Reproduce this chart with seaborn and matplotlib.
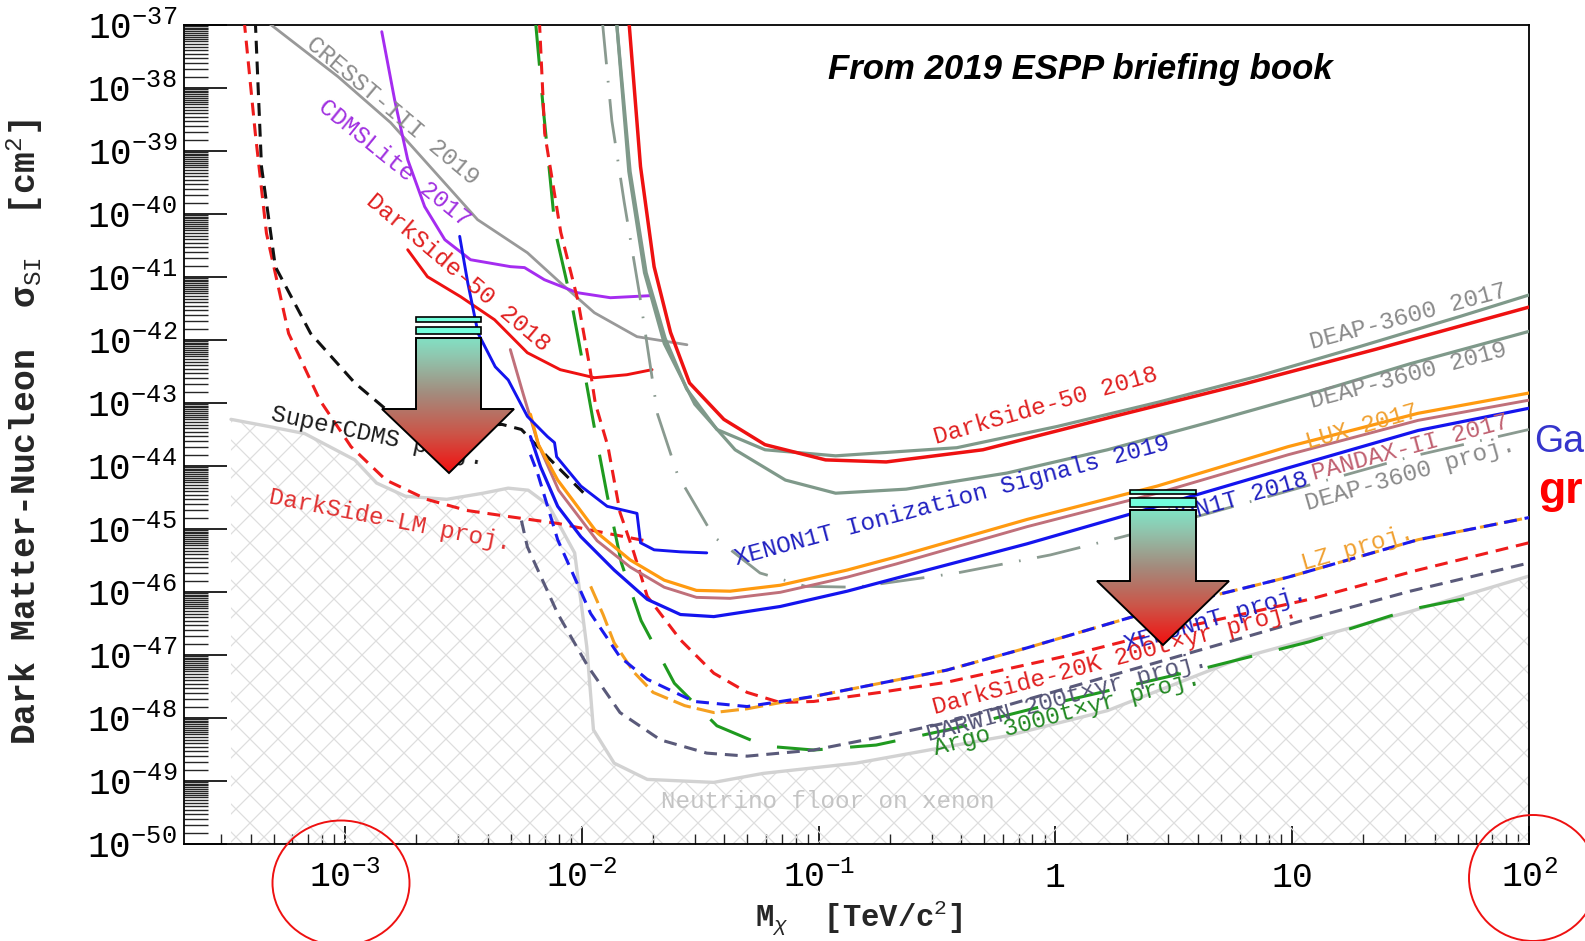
import numpy as np
import pandas as pd
import matplotlib
matplotlib.use("Agg")
import matplotlib.pyplot as plt
import seaborn as sns
from matplotlib.patches import Polygon, Ellipse, Rectangle
from matplotlib.collections import LineCollection
from matplotlib.colors import LinearSegmentedColormap
from matplotlib.ticker import FixedLocator, FixedFormatter, LogLocator, NullFormatter
from matplotlib.transforms import IdentityTransform

# ---------------- data (mass in TeV/c^2, cross section in cm^2) ----------------
cresst_m = [4.8e-4, 9.35e-4, 1.56e-3, 3.63e-3, 5.89e-3, 8.11e-3, 1.13e-2, 1.71e-2, 2.78e-2]
cresst_s = [1.05e-37, 1.51e-38, 2.81e-39, 8.13e-41, 2.43e-41, 8.13e-42, 2.71e-42, 1.13e-42, 8.41e-43]

cdms_m = [1.43e-3, 1.62e-3, 1.84e-3, 2.17e-3, 2.64e-3, 3.39e-3, 5.0e-3, 5.73e-3, 6.95e-3, 9.57e-3, 1.32e-2, 1.94e-2]
cdms_s = [7.83e-38, 6.52e-39, 7.28e-40, 1.31e-40, 3.91e-41, 1.88e-41, 1.46e-41, 1.41e-41, 9.06e-42, 5.64e-42, 4.69e-42, 5.05e-42]

ds50lo_m = [1.84e-3, 2.23e-3, 3.08e-3, 4.28e-3, 5.89e-3, 8.11e-3, 1.13e-2, 1.55e-2, 1.98e-2]
ds50lo_s = [2.71e-41, 1.01e-41, 4.86e-42, 2.10e-42, 6.28e-43, 3.38e-43, 2.52e-43, 2.81e-43, 3.38e-43]

ion_m = [3.05e-3, 3.30e-3, 3.65e-3, 4.31e-3, 4.89e-3, 5.89e-3, 7.16e-3, 7.67e-3, 7.83e-3, 9.91e-3,
         1.28e-2, 1.71e-2, 1.75e-2, 1.77e-2, 2.02e-2, 2.61e-2, 3.37e-2]
ion_s = [4.42e-41, 8.07e-42, 1.27e-42, 3.76e-43, 2.32e-43, 6.14e-44, 2.93e-44, 2.35e-44, 1.40e-44, 4.80e-45,
         2.29e-45, 1.77e-45, 8.75e-46, 6.05e-46, 4.67e-46, 4.34e-46, 4.18e-46]

xe18_m = [6.07e-3, 6.70e-3, 7.91e-3, 9.91e-3, 1.37e-2, 1.89e-2, 2.61e-2, 3.61e-2, 6.89e-2, 0.132, 0.213,
          0.760, 2.69, 9.62, 34.0, 100]
xe18_s = [2.93e-44, 9.68e-45, 2.29e-45, 7.55e-46, 2.23e-46, 7.64e-47, 4.39e-47, 4.07e-47, 5.89e-47, 1.03e-46,
          1.66e-46, 5.83e-46, 2.29e-45, 9.33e-45, 3.66e-44, 8.26e-44]

lux_m = [6.07e-3, 6.56e-3, 7.91e-3, 1.16e-2, 1.60e-2, 2.23e-2, 3.05e-2, 4.23e-2, 6.89e-2, 0.132, 0.213,
         0.760, 2.69, 9.62, 34.0, 100]
lux_s = [6.61e-44, 2.18e-44, 5.98e-45, 8.75e-46, 3.23e-46, 1.54e-46, 1.06e-46, 1.03e-46, 1.28e-46, 2.23e-46,
         3.61e-46, 1.42e-45, 4.80e-45, 2.03e-44, 6.86e-44, 1.44e-43]

pandax_m = [4.99e-3, 5.66e-3, 6.56e-3, 7.98e-3, 1.16e-2, 1.60e-2, 2.23e-2, 3.05e-2, 4.23e-2, 6.89e-2, 0.132,
            0.213, 0.760, 2.69, 9.62, 34.0, 100]
pandax_s = [7.05e-43, 1.38e-43, 2.18e-44, 4.13e-45, 6.52e-46, 2.49e-46, 1.19e-46, 8.22e-47, 7.93e-47, 9.89e-47,
            1.72e-46, 2.79e-46, 1.09e-45, 3.70e-45, 1.51e-44, 5.30e-44, 1.11e-43]

ds50hi_m = [1.58e-2, 1.77e-2, 2.02e-2, 2.37e-2, 2.85e-2, 3.98e-2, 5.94e-2, 0.107, 0.193, 0.494, 1.77, 6.25, 22.3, 100]
ds50hi_s = [1.2e-37, 5.66e-40, 1.46e-41, 1.32e-42, 2.08e-43, 5.50e-44, 2.18e-44, 1.25e-44, 1.16e-44, 1.81e-44,
            6.14e-44, 2.00e-43, 7.05e-43, 3.33e-42]

deap17_m = [1.40e-2, 1.60e-2, 1.87e-2, 2.25e-2, 2.77e-2, 3.72e-2, 5.94e-2, 0.118, 0.383, 1.02, 2.72, 7.24, 19.3, 51.4, 100]
deap17_s = [1.2e-37, 4.71e-40, 1.17e-41, 1.06e-42, 1.67e-43, 3.80e-44, 1.81e-44, 1.45e-44, 1.95e-44, 4.25e-44,
            1.03e-43, 2.69e-43, 7.87e-43, 2.38e-42, 5.18e-42]

deap19_m = [1.40e-2, 1.58e-2, 1.84e-2, 2.23e-2, 3.00e-2, 4.44e-2, 7.24e-2, 0.118, 0.234, 0.625, 1.66, 4.44, 11.8, 31.5, 100]
deap19_s = [1.2e-37, 4.71e-40, 1.17e-41, 8.79e-43, 9.57e-44, 1.81e-44, 5.98e-45, 3.70e-45, 4.29e-45, 7.74e-45,
            1.81e-44, 4.92e-44, 1.38e-43, 4.20e-43, 1.37e-42]

deapp_m = [1.22e-2, 1.34e-2, 1.51e-2, 1.75e-2, 2.09e-2, 2.54e-2, 3.61e-2, 5.66e-2, 8.81e-2, 0.144, 0.383, 0.953,
           1.93, 4.44, 11.8, 31.5, 100]
deapp_s = [1.2e-37, 2.99e-39, 1.55e-40, 5.57e-42, 6.61e-44, 7.20e-45, 7.55e-46, 2.00e-46, 1.23e-46, 1.19e-46,
           2.00e-46, 3.88e-46, 7.55e-46, 1.77e-45, 4.98e-45, 1.40e-44, 3.80e-44]

xnt_m = [6.07e-3, 6.50e-3, 7.91e-3, 1.09e-2, 1.45e-2, 1.89e-2, 2.98e-2, 4.99e-2, 9.53e-2, 0.182, 0.347, 0.760,
         2.69, 9.62, 34.0, 100]
xnt_s = [1.51e-44, 7.74e-45, 6.76e-46, 4.55e-47, 9.29e-48, 4.12e-48, 1.83e-48, 1.52e-48, 2.20e-48, 3.56e-48,
         5.74e-48, 1.30e-47, 5.27e-47, 1.72e-46, 6.76e-46, 1.52e-45]

lz_m = [1.09e-2, 1.23e-2, 1.37e-2, 1.66e-2, 2.00e-2, 2.72e-2, 3.61e-2, 4.99e-2, 9.53e-2, 0.182, 0.347, 0.760,
        2.69, 9.62, 34.0, 100]
lz_s = [1.23e-46, 4.39e-47, 1.56e-47, 5.33e-48, 2.55e-48, 1.57e-48, 1.22e-48, 1.40e-48, 2.20e-48, 3.56e-48,
        5.74e-48, 1.30e-47, 5.27e-47, 1.72e-46, 6.76e-46, 1.52e-45]

ds20k_m = [6.62e-3, 6.97e-3, 8.15e-3, 9.62e-3, 1.08e-2, 1.14e-2, 1.29e-2, 1.45e-2, 1.66e-2, 1.89e-2, 2.61e-2,
           3.61e-2, 4.99e-2, 6.89e-2, 9.53e-2, 0.182, 0.347, 1.16, 2.72, 11.8, 34.0, 100]
ds20k_s = [1.2e-37, 1.92e-39, 5.13e-41, 4.31e-42, 3.76e-43, 9.93e-44, 2.03e-44, 1.83e-45, 4.18e-46, 8.53e-47,
           1.74e-47, 5.14e-48, 2.55e-48, 1.76e-48, 1.83e-48, 2.55e-48, 3.69e-48, 1.00e-47, 2.25e-47, 7.64e-47,
           2.23e-46, 6.05e-46]

darwin_m = [5.56e-3, 5.89e-3, 7.91e-3, 1.06e-2, 1.45e-2, 2.15e-2, 3.37e-2, 4.99e-2, 9.53e-2, 0.182, 0.347,
            0.760, 2.72, 11.8, 31.5, 100]
darwin_s = [1.36e-45, 5.21e-46, 4.55e-47, 6.65e-48, 1.22e-48, 4.49e-49, 2.77e-49, 2.48e-49, 3.10e-49, 5.01e-49,
            8.41e-49, 1.97e-48, 7.73e-48, 3.78e-47, 1.03e-46, 2.89e-46]

argo_m = [6.37e-3, 6.89e-3, 7.74e-3, 9.06e-3, 1.02e-2, 1.14e-2, 1.28e-2, 1.47e-2, 1.78e-2, 2.46e-2, 3.72e-2,
          5.94e-2, 9.53e-2, 0.175, 0.383, 1.02, 4.44, 11.8, 31.5, 65.6]
argo_s = [1.2e-37, 4.33e-39, 5.13e-41, 3.85e-42, 3.49e-43, 3.40e-44, 3.44e-45, 2.89e-46, 3.51e-47, 3.56e-48,
          7.52e-49, 3.59e-49, 3.10e-49, 3.72e-49, 6.98e-49, 1.76e-48, 6.41e-48, 1.62e-47, 5.27e-47, 9.18e-47]

scdms_m = [4.18e-4, 4.44e-4, 5.08e-4, 7.16e-4, 1.10e-3, 1.49e-3, 2.34e-3, 3.47e-3, 4.61e-3, 5.56e-3, 7.16e-3, 1.02e-2]
scdms_s = [1.2e-37, 5.66e-40, 1.46e-41, 1.27e-42, 2.08e-43, 7.94e-44, 4.92e-44, 4.41e-44, 4.57e-44, 3.80e-44,
           1.40e-44, 3.70e-45]

dslm_m = [3.75e-4, 4.18e-4, 4.66e-4, 5.78e-4, 7.83e-4, 1.06e-3, 1.49e-3, 2.21e-3, 3.27e-3, 4.89e-3, 7.98e-3, 1.30e-2, 1.85e-2]
dslm_s = [1.2e-37, 1.92e-39, 4.93e-41, 1.27e-42, 1.11e-43, 2.03e-44, 5.98e-45, 2.96e-45, 1.97e-45, 1.58e-45,
          1.22e-45, 8.43e-46, 6.52e-46]

nu_m = [3.30e-4, 4.75e-4, 6.76e-4, 1.10e-3, 1.36e-3, 1.80e-3, 2.69e-3, 3.83e-3, 4.89e-3, 5.94e-3, 7.24e-3,
        9.33e-3, 1.05e-2, 1.12e-2, 1.37e-2, 1.89e-2, 3.61e-2, 5.83e-2, 0.144, 0.625, 1.66, 6.25, 31.5, 100]
nu_s = [5.50e-44, 4.25e-44, 3.27e-44, 1.25e-44, 5.36e-45, 3.31e-45, 2.96e-45, 3.70e-45, 4.45e-45, 4.13e-45,
        2.38e-45, 4.18e-46, 1.34e-47, 6.49e-49, 1.92e-49, 1.06e-49, 9.51e-50, 1.32e-49, 1.92e-49, 5.20e-49,
        1.31e-48, 9.29e-48, 4.90e-47, 1.79e-46]

# curve labels (text) and their anchor values
label_texts = ["CRESST-III 2019", "CDMSLite 2017", "DarkSide-50 2018", "SuperCDMS proj.", "DarkSide-LM proj.",
               "XENON1T Ionization Signals 2019", "DarkSide-50 2018", "DEAP-3600 2017", "DEAP-3600 2019",
               "LUX 2017", "PANDAX-II 2017", "DEAP-3600 proj.", "XENON1T 2018", "LZ proj.", "XENONnT proj.",
               "DarkSide-20K 200t×yr proj.", "DARWIN 200t×yr proj.", "Argo 3000t×yr proj.",
               "Neutrino floor on xenon"]
label_m = [1.58e-3, 1.62e-3, 3.00e-3, 1.37e-3, 1.55e-3, 0.365, 0.906, 30.8, 30.8, 19.7, 31.5, 31.5, 5.14, 18.9,
           4.75, 1.78, 1.12, 1.12, 0.109]
label_s = [4.33e-39, 6.32e-40, 1.17e-41, 2.93e-44, 1.36e-45, 2.86e-45, 8.89e-44, 2.38e-42, 2.69e-43, 4.25e-44,
           1.95e-44, 7.46e-45, 2.6e-45, 5.04e-46, 3.78e-47, 8.63e-48, 2.12e-48, 1.17e-48, 4.71e-50]

xtick_vals = [1e-3, 1e-2, 1e-1, 1, 10, 100]
xtick_labels = [r"$10^{-3}$", r"$10^{-2}$", r"$10^{-1}$", "1", "10", r"$10^{2}$"]
ytick_exps = list(range(-37, -51, -1))

# ---------------- styling ----------------
sns.set_theme(style="white")
plt.rcParams['font.family'] = ['Liberation Mono', 'DejaVu Sans Mono']
plt.rcParams['mathtext.fontset'] = 'custom'
plt.rcParams['mathtext.rm'] = 'Liberation Mono'
plt.rcParams['mathtext.it'] = 'Liberation Mono:italic'
plt.rcParams['mathtext.bf'] = 'Liberation Mono:bold'
plt.rcParams['axes.unicode_minus'] = False

W, H = 1585, 941
fig = plt.figure(figsize=(W / 100, H / 100), dpi=100)
fig.patch.set_facecolor('white')
ax = fig.add_axes([184 / W, 1 - 844 / H, (1529 - 184) / W, (844 - 25) / H])
ax.set_facecolor('white')
ax.set_xscale('log')
ax.set_yscale('log')
XLIM = (2.09e-4, 100)
YLIM = (1e-50, 1e-37)
ax.set_xlim(*XLIM)
ax.set_ylim(*YLIM)


def curve(m, s, color, lw, dashes=None, z=3):
    sns.lineplot(x=m, y=s, ax=ax, color=color, linewidth=lw, sort=False, estimator=None, zorder=z)
    ln = ax.lines[-1]
    if dashes is not None:
        ln.set_dashes(dashes)
    ln.set_dash_capstyle('butt')
    ln.set_solid_joinstyle('round')
    return ln


# neutrino floor region (hatched) -----------------------------------------
fillpoly = ax.fill_between(nu_m, nu_s, YLIM[0], facecolor='none', edgecolor='none', zorder=0)
segs = []
for c in range(-2400, 2400, 28):
    segs.append([(-200, -200 + c), (2200, 2200 + c)])
    segs.append([(-200, 2200 - c), (2200, -200 - c)])
hatch = LineCollection(segs, transform=IdentityTransform(), colors='#dedede', linewidths=0.9, zorder=1)
ax.add_collection(hatch, autolim=False)
hatch.set_clip_path(fillpoly.get_paths()[0], fillpoly.get_transform())

curve(nu_m, nu_s, '#d2d2d2', 2.4, z=2)

# limits and projections ------------------------------------------------------
curve(cresst_m, cresst_s, '#999999', 2.0)
curve(cdms_m, cdms_s, '#a52cf0', 2.1)
curve(ds50lo_m, ds50lo_s, '#ee1111', 2.1)
curve(dslm_m, dslm_s, '#ee1c1c', 2.2, dashes=(4.2, 2.6))
curve(scdms_m, scdms_s, '#111111', 2.2, dashes=(4.2, 2.6))
curve(deapp_m, deapp_s, '#8a9a90', 2.0, dashes=(16, 6, 0.6, 6))
curve(argo_m, argo_s, '#1f9a1f', 2.2, dashes=(15, 9))
curve(ds20k_m, ds20k_s, '#ee1c1c', 2.2, dashes=(4.2, 2.6))
curve(darwin_m, darwin_s, '#5a5a7a', 2.2, dashes=(4.2, 2.6))
curve(lz_m, lz_s, '#f5a020', 2.2, dashes=(6, 2))
curve(xnt_m, xnt_s, '#1a1aee', 2.2, dashes=(4.2, 2.6))
curve(deap19_m, deap19_s, '#7f998a', 2.3)
curve(deap17_m, deap17_s, '#7f998a', 2.3)
curve(ds50hi_m, ds50hi_s, '#ee1111', 2.5)
curve(pandax_m, pandax_s, '#c0707a', 2.1)
curve(lux_m, lux_s, '#ff9a10', 2.3)
curve(xe18_m, xe18_s, '#1414ee', 2.3)
curve(ion_m, ion_s, '#1414ee', 2.1)

ax.set_xlim(*XLIM)
ax.set_ylim(*YLIM)

# curve labels
label_rot = [-40, -39, -40, -12, -11, 15, 16, 15, 15, 16, 15, 16, 16, 16, 16, 15, 15, 15, 0]
label_col = ['#8c8c8c', '#a030e0', '#e02020', '#1a1a1a', '#e03030', '#2020c0', '#e02020', '#8a8a8a',
             '#8a8a8a', '#f0a030', '#c06070', '#8a8a8a', '#2020c0', '#f0a030', '#2020c0', '#e02020',
             '#555577', '#228822', '#c4c4c4']
for t, xm, ys, r, c in zip(label_texts, label_m, label_s, label_rot, label_col):
    ax.text(xm, ys, t, rotation=r, rotation_mode='anchor', ha='center', va='center',
            fontsize=17.5, color=c, zorder=6)

# axes decoration
for sp in ax.spines.values():
    sp.set_color('black')
    sp.set_linewidth(1.3)
    sp.set_visible(True)

ax.yaxis.set_major_locator(FixedLocator([10.0 ** e for e in ytick_exps]))
ax.yaxis.set_major_formatter(FixedFormatter([r"$10^{%d}$" % e for e in ytick_exps]))
ax.yaxis.set_minor_locator(LogLocator(base=10, subs=np.arange(1.5, 10, 0.5), numticks=60))
ax.yaxis.set_minor_formatter(NullFormatter())
ax.xaxis.set_major_locator(FixedLocator(xtick_vals))
ax.xaxis.set_major_formatter(FixedFormatter(xtick_labels))
ax.xaxis.set_minor_locator(LogLocator(base=10, subs=np.arange(2, 10), numticks=60))
ax.xaxis.set_minor_formatter(NullFormatter())

ax.tick_params(axis='y', which='major', direction='in', length=31, width=1.2, left=True, right=False,
               labelsize=26, pad=5, colors='black')
ax.tick_params(axis='y', which='minor', direction='in', length=17, width=1.0, left=True, right=False)
ax.tick_params(axis='x', which='major', direction='in', length=13, width=1.2, bottom=True, top=False,
               labelsize=25, pad=12, colors='black')
ax.tick_params(axis='x', which='minor', direction='in', length=7, width=1.0, bottom=True, top=False)

ax.set_ylabel("Dark Matter-Nucleon  σ$_{\\rm SI}$  [cm$^{2}$]", fontsize=25, fontweight='bold')
ax.yaxis.set_label_coords(-0.103, 0.503)
ax.set_xlabel(r"M$_{\chi}$  [TeV/c$^{2}$]", fontsize=22, fontweight='bold')
ax.xaxis.set_label_coords(0.502, -0.066)

# ---------------- overlay (annotations in pixel space) ----------------
ov = fig.add_axes([0, 0, 1, 1], zorder=10)
ov.set_xlim(0, W)
ov.set_ylim(H, 0)
ov.axis('off')
ov.patch.set_alpha(0)

cmap = LinearSegmentedColormap.from_list('arrowgrad', ['#72ffdc', '#8fc8b0', '#a48a7c', '#cc5548', '#f21010'])


def grad_arrow(bx0, bx1, hx0, hx1, ytop, stripes, ybody, yhead, tip):
    pts = [(bx0, ybody), (bx1, ybody), (bx1, yhead), (hx1, yhead), tip, (hx0, yhead), (bx0, yhead)]
    outline = Polygon(pts, closed=True, fc='none', ec='black', lw=1.4, zorder=12)
    ov.add_patch(outline)
    grad = np.linspace(0, 1, 256).reshape(-1, 1)
    im = ov.imshow(grad, cmap=cmap, extent=(hx0, hx1, tip[1], ytop), aspect='auto', zorder=11,
                   interpolation='bilinear')
    im.set_clip_path(outline)
    for (y0, y1) in stripes:
        ov.add_patch(Rectangle((bx0, y0), bx1 - bx0, y1 - y0, fc='#72ffdc', ec='black', lw=1.2, zorder=12))


grad_arrow(416, 481, 382, 514, 317, [(317, 322), (327, 334)], 338, 409, (449, 473))
grad_arrow(1130, 1196, 1097, 1229, 490, [(490, 494), (498, 507)], 510, 581, (1163, 645))
ov.set_xlim(0, W)
ov.set_ylim(H, 0)

ov.add_patch(Ellipse((341, 883), 137, 125, fill=False, ec='#ee1111', lw=1.4, zorder=12))
ov.add_patch(Ellipse((1533, 878), 128, 126, fill=False, ec='#ee1111', lw=1.4, zorder=12))

ov.text(1080, 69, "From 2019 ESPP briefing book", fontsize=25, fontweight='bold', style='italic',
        family=['Liberation Sans', 'DejaVu Sans'], ha='center', va='center', color='black', zorder=12)
ov.text(1534, 452, "Ga", fontsize=27, family=['Liberation Sans', 'DejaVu Sans'], color='#3535cc',
        ha='left', va='baseline', zorder=12)
ov.text(1538, 503, "gr", fontsize=32, fontweight='bold', family=['Liberation Sans', 'DejaVu Sans'],
        color='#ff0000', ha='left', va='baseline', zorder=12)

fig.savefig("out.png", dpi=100, facecolor='white')
